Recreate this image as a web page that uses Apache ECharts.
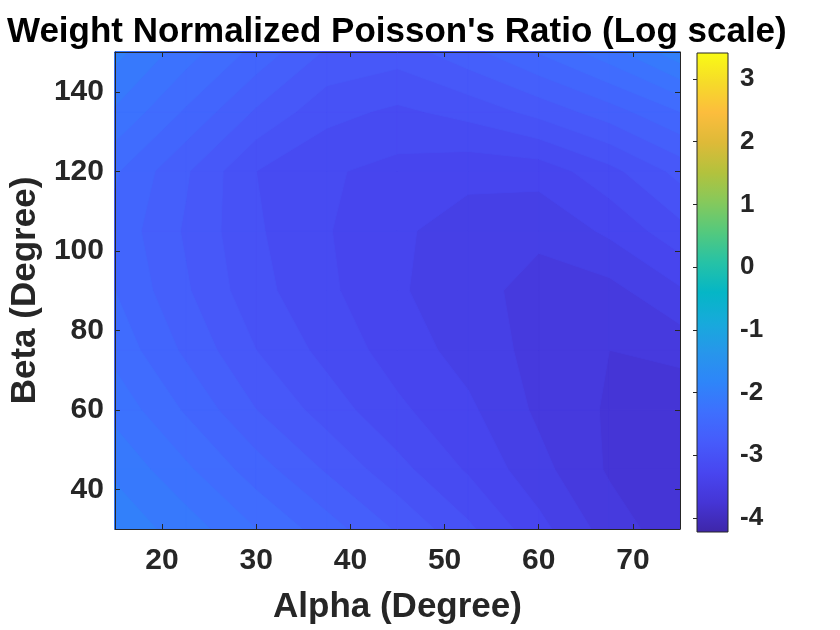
<!DOCTYPE html>
<html>
<head>
<meta charset="utf-8">
<script src="https://cdn.jsdelivr.net/npm/echarts@6/dist/echarts.min.js"></script>
<style>html,body{margin:0;padding:0;background:#ffffff}#chart{width:840px;height:630px}</style>
</head>
<body>
<div id="chart"></div>
<script>
// ---- data ----
const alphaValues = [15, 22.5, 30, 37.5, 45, 52.5, 60, 67.5, 75];
const betaValues = [30, 45, 60, 75, 90, 105, 120, 135, 150];
// log10 weight-normalized Poisson's ratio, one row per beta (columns follow alphaValues)
const rowBeta30  = [-1.85, -2.02, -2.25, -2.48, -2.72, -2.97, -3.25, -3.52, -3.70];
const rowBeta45  = [-1.98, -2.22, -2.48, -2.72, -2.95, -3.17, -3.40, -3.62, -3.75];
const rowBeta60  = [-2.15, -2.42, -2.70, -2.92, -3.12, -3.27, -3.48, -3.62, -3.72];
const rowBeta75  = [-2.30, -2.58, -2.85, -3.05, -3.22, -3.36, -3.50, -3.60, -3.55];
const rowBeta90  = [-2.40, -2.68, -2.95, -3.12, -3.28, -3.40, -3.50, -3.50, -3.32];
const rowBeta105 = [-2.45, -2.72, -2.98, -3.14, -3.27, -3.38, -3.42, -3.27, -3.05];
const rowBeta120 = [-2.38, -2.68, -3.00, -3.13, -3.20, -3.25, -3.24, -3.05, -2.80];
const rowBeta135 = [-2.12, -2.42, -2.72, -2.95, -3.03, -2.95, -2.80, -2.62, -2.40];
const rowBeta150 = [-1.90, -2.18, -2.45, -2.72, -2.78, -2.60, -2.39, -2.16, -1.85];
const contourLevels = [-3.75, -3.6, -3.45, -3.3, -3.15, -3.0, -2.85, -2.7, -2.55, -2.4, -2.25, -2.1, -1.95, -1.8];
const colorLimits = [-4.223, 3.415];
const xTickValues = [20, 30, 40, 50, 60, 70];
const yTickValues = [40, 60, 80, 100, 120, 140];
const colorbarTickValues = [-4, -3, -2, -1, 0, 1, 2, 3];

const zGrid = [rowBeta30, rowBeta45, rowBeta60, rowBeta75, rowBeta90, rowBeta105, rowBeta120, rowBeta135, rowBeta150];

// ---- parula colormap (style) ----
const PARULA = [
  [0.000, 0.2422, 0.1504, 0.6603],
  [0.0625, 0.2691, 0.2070, 0.8390],
  [0.125, 0.2810, 0.2760, 0.9400],
  [0.1875, 0.2760, 0.3550, 0.9830],
  [0.250, 0.2440, 0.4370, 0.9980],
  [0.3125, 0.1800, 0.5200, 0.9760],
  [0.375, 0.1540, 0.5900, 0.9200],
  [0.4375, 0.0900, 0.6650, 0.8600],
  [0.500, 0.0190, 0.7150, 0.7750],
  [0.5625, 0.1500, 0.7600, 0.6500],
  [0.625, 0.3250, 0.7900, 0.4950],
  [0.6875, 0.5200, 0.7900, 0.3600],
  [0.750, 0.7000, 0.7600, 0.2400],
  [0.8125, 0.8700, 0.7300, 0.2200],
  [0.875, 0.9900, 0.7400, 0.2400],
  [0.9375, 0.9650, 0.8600, 0.1600],
  [1.000, 0.9769, 0.9839, 0.0805]
];
function parula(t) {
  t = Math.max(0, Math.min(1, t));
  for (let k = 0; k < PARULA.length - 1; k++) {
    const a = PARULA[k], b = PARULA[k + 1];
    if (t <= b[0]) {
      const u = (t - a[0]) / (b[0] - a[0]);
      const c = [1, 2, 3].map(m => Math.round(255 * (a[m] + u * (b[m] - a[m]))));
      return 'rgb(' + c.join(',') + ')';
    }
  }
  const l = PARULA[PARULA.length - 1];
  return 'rgb(' + [1, 2, 3].map(m => Math.round(255 * l[m])).join(',') + ')';
}
function colorOf(v) { return parula((v - colorLimits[0]) / (colorLimits[1] - colorLimits[0])); }

// keep the part of a cell polygon where value >= L (value linear along edges)
function clipAbove(poly, L) {
  const out = [];
  const n = poly.length;
  for (let i = 0; i < n; i++) {
    const P = poly[i], Q = poly[(i + 1) % n];
    const pin = P[2] >= L, qin = Q[2] >= L;
    if (pin) out.push(P);
    if (pin !== qin) {
      const t = (L - P[2]) / (Q[2] - P[2]);
      out.push([P[0] + t * (Q[0] - P[0]), P[1] + t * (Q[1] - P[1]), L]);
    }
  }
  return out;
}

// one item per contour level, drawn in ascending order (filled contours)
const levelData = contourLevels.map((L, k) => [alphaValues[0], betaValues[0], k]);

const FONT = "'Liberation Sans', Arial, Helvetica, sans-serif";
const AX = '#262626';

const chart = echarts.init(document.getElementById('chart'), null, { renderer: 'canvas' });

const tickStyle = { show: true, inside: true, length: 5, lineStyle: { color: AX, width: 1 } };
const lineStyle = { show: true, lineStyle: { color: AX, width: 1 } };

chart.setOption({
  animation: false,
  backgroundColor: '#ffffff',
  title: {
    text: "Weight Normalized Poisson's Ratio (Log scale)",
    left: 2,
    top: 10,
    textStyle: { fontFamily: FONT, fontSize: 35, fontWeight: 'bold', color: '#000000' }
  },
  grid: [
    { left: 114, top: 52, width: 566, height: 480 },
    { left: 697, top: 53, width: 31, height: 479 }
  ],
  xAxis: [
    {
      gridIndex: 0, type: 'value', min: 15, max: 75, position: 'bottom', z: 10,
      axisLine: lineStyle,
      axisTick: Object.assign({ customValues: xTickValues }, tickStyle),
      axisLabel: { customValues: xTickValues, fontFamily: FONT, fontSize: 30, fontWeight: 'bold', color: AX, margin: 17 },
      splitLine: { show: false },
      name: 'Alpha (Degree)', nameLocation: 'middle', nameGap: 61,
      nameTextStyle: { fontFamily: FONT, fontSize: 35, fontWeight: 'bold', color: AX }
    },
    {
      gridIndex: 0, type: 'value', min: 15, max: 75, position: 'top', z: 10,
      axisLine: lineStyle,
      axisTick: Object.assign({ customValues: xTickValues }, tickStyle),
      axisLabel: { show: false }, splitLine: { show: false }
    },
    { gridIndex: 1, type: 'value', min: 0, max: 1, show: false }
  ],
  yAxis: [
    {
      gridIndex: 0, type: 'value', min: 30, max: 150, position: 'left', z: 10,
      axisLine: lineStyle,
      axisTick: Object.assign({ customValues: yTickValues }, tickStyle),
      axisLabel: { customValues: yTickValues, fontFamily: FONT, fontSize: 30, fontWeight: 'bold', color: AX, margin: 11 },
      splitLine: { show: false },
      name: 'Beta (Degree)', nameLocation: 'middle', nameGap: 69, nameRotate: 90,
      nameTextStyle: { fontFamily: FONT, fontSize: 35, fontWeight: 'bold', color: AX }
    },
    {
      gridIndex: 0, type: 'value', min: 30, max: 150, position: 'right', z: 10,
      axisLine: lineStyle,
      axisTick: Object.assign({ customValues: yTickValues }, tickStyle),
      axisLabel: { show: false }, splitLine: { show: false }
    },
    {
      gridIndex: 1, type: 'value', min: colorLimits[0], max: colorLimits[1], position: 'right', z: 10,
      axisLine: { show: false },
      axisTick: { show: true, inside: true, length: 4, customValues: colorbarTickValues, lineStyle: { color: AX, width: 1 } },
      axisLabel: { customValues: colorbarTickValues, fontFamily: FONT, fontSize: 26, fontWeight: 'bold', color: AX, margin: 12 },
      splitLine: { show: false }
    }
  ],
  series: [
    {
      type: 'custom',
      xAxisIndex: 0, yAxisIndex: 0,
      data: levelData,
      encode: { x: 0, y: 1 },
      silent: true,
      renderItem: function (params, api) {
        const k = api.value(2);
        const L = contourLevels[k];
        const col = colorOf(L);
        const children = [];
        for (let j = 0; j < betaValues.length - 1; j++) {
          for (let i = 0; i < alphaValues.length - 1; i++) {
            const quad = [
              [alphaValues[i], betaValues[j], zGrid[j][i]],
              [alphaValues[i + 1], betaValues[j], zGrid[j][i + 1]],
              [alphaValues[i + 1], betaValues[j + 1], zGrid[j + 1][i + 1]],
              [alphaValues[i], betaValues[j + 1], zGrid[j + 1][i]]
            ];
            const poly = k === 0 ? quad : clipAbove(quad, L);
            if (poly.length < 3) continue;
            children.push({
              type: 'polygon',
              shape: { points: poly.map(p => api.coord([p[0], p[1]])) },
              style: { fill: col, stroke: col, lineWidth: 1 }
            });
          }
        }
        return { type: 'group', children: children };
      }
    },
    {
      type: 'custom',
      xAxisIndex: 2, yAxisIndex: 2,
      data: [[0, colorLimits[0]]],
      silent: true,
      renderItem: function (params, api) {
        const p0 = api.coord([0, colorLimits[1]]);
        const p1 = api.coord([1, colorLimits[0]]);
        const stops = PARULA.map(s => ({ offset: 1 - s[0], color: parula(s[0]) })).reverse();
        return {
          type: 'rect',
          shape: { x: p0[0], y: p0[1], width: p1[0] - p0[0], height: p1[1] - p0[1] },
          style: { fill: new echarts.graphic.LinearGradient(0, 0, 0, 1, stops), stroke: AX, lineWidth: 1 }
        };
      }
    }
  ]
});
</script>
</body>
</html>
